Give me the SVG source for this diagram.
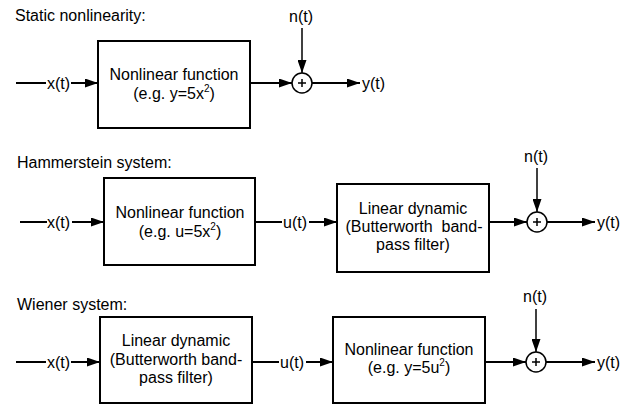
<svg xmlns="http://www.w3.org/2000/svg" width="638" height="409" viewBox="0 0 638 409">
<defs>
<marker id="ah" markerWidth="13" markerHeight="9" refX="13" refY="4.5" orient="auto" markerUnits="userSpaceOnUse"><path d="M0,0 L13,4.5 L0,9 z" fill="#000"/></marker>
<style>
text{font-family:"Liberation Sans",Arial,sans-serif;font-size:16px;fill:#000}
.m{text-anchor:middle}
.box{fill:#fff;stroke:#000;stroke-width:2}
.c{stroke:#000;stroke-width:2;fill:none}
.v{stroke:#000;stroke-width:1.5;fill:none}
.a{marker-end:url(#ah)}
.sum{fill:#fff;stroke:#000;stroke-width:1.5}
.sup{font-size:10px}
.pre{white-space:pre}
</style>
</defs>
<rect width="638" height="409" fill="#fff"/>

<text x="15" y="21">Static nonlinearity:</text>
<text x="17" y="168">Hammerstein system:</text>
<text x="17" y="310">Wiener system:</text>

<g id="connectors">
<line class="c" x1="16" y1="83" x2="46" y2="83"/>
<line class="c a" x1="71" y1="83" x2="98" y2="83"/>
<line class="c a" x1="250" y1="83" x2="292" y2="83"/>
<line class="v a" x1="302" y1="28" x2="302" y2="73"/>
<line class="c a" x1="312" y1="83" x2="360" y2="83"/>

<line class="c" x1="20" y1="222" x2="47" y2="222"/>
<line class="c a" x1="72" y1="222" x2="104" y2="222"/>
<line class="c" x1="255" y1="222" x2="282" y2="222"/>
<line class="c a" x1="309" y1="222" x2="337" y2="222"/>
<line class="c a" x1="489" y1="222" x2="527" y2="222"/>
<line class="v a" x1="537" y1="168" x2="537" y2="212"/>
<line class="c a" x1="547" y1="222" x2="595" y2="222"/>

<line class="c" x1="16" y1="362" x2="46" y2="362"/>
<line class="c a" x1="71" y1="362" x2="100" y2="362"/>
<line class="c" x1="252" y1="362" x2="279" y2="362"/>
<line class="c a" x1="306" y1="362" x2="333" y2="362"/>
<line class="c a" x1="485" y1="362" x2="526" y2="362"/>
<line class="v a" x1="536" y1="309" x2="536" y2="352"/>
<line class="c a" x1="546" y1="362" x2="595" y2="362"/>

<text x="47" y="88.5">x(t)</text>
<text x="301" y="22" class="m">n(t)</text>
<text x="362" y="88.5">y(t)</text>
<text x="47" y="227.5">x(t)</text>
<text x="283" y="227.5">u(t)</text>
<text x="536" y="162" class="m">n(t)</text>
<text x="597" y="227.5">y(t)</text>
<text x="47" y="367.5">x(t)</text>
<text x="280" y="367.5">u(t)</text>
<text x="535" y="302" class="m">n(t)</text>
<text x="597" y="367.5">y(t)</text>
</g>

<g id="static-nl">
<rect class="box" x="98" y="41" width="152" height="87"/>
<text x="174" y="79.5" class="m">Nonlinear function</text>
<text x="174" y="98.5" class="m">(e.g. y=5x<tspan class="sup" dy="-7">2</tspan><tspan dy="7">)</tspan></text>
</g>
<g id="static-sum">
<circle class="sum" cx="302" cy="83" r="10"/>
<path class="v" d="M298,83 H306 M302,79 V87"/>
</g>

<g id="ham-nl">
<rect class="box" x="104" y="178" width="151" height="87"/>
<text x="180" y="218" class="m">Nonlinear function</text>
<text x="180" y="237" class="m">(e.g. u=5x<tspan class="sup" dy="-7">2</tspan><tspan dy="7">)</tspan></text>
</g>
<g id="ham-lin">
<rect class="box" x="337" y="184" width="152" height="88"/>
<text x="413" y="214" class="m">Linear dynamic</text>
<text x="414" y="232" class="m pre">(Butterworth  band-</text>
<text x="413" y="250" class="m">pass filter)</text>
</g>
<g id="ham-sum">
<circle class="sum" cx="537" cy="222" r="10"/>
<path class="v" d="M533,222 H541 M537,218 V226"/>
</g>

<g id="wie-lin">
<rect class="box" x="100" y="317" width="152" height="86"/>
<text x="176" y="346" class="m">Linear dynamic</text>
<text x="176" y="365" class="m">(Butterworth band-</text>
<text x="176" y="383" class="m">pass filter)</text>
</g>
<g id="wie-nl">
<rect class="box" x="333" y="317" width="152" height="86"/>
<text x="409" y="355" class="m">Nonlinear function</text>
<text x="409" y="373" class="m">(e.g. y=5u<tspan class="sup" dy="-7">2</tspan><tspan dy="7">)</tspan></text>
</g>
<g id="wie-sum">
<circle class="sum" cx="536" cy="362" r="10"/>
<path class="v" d="M532,362 H540 M536,358 V366"/>
</g>
</svg>
